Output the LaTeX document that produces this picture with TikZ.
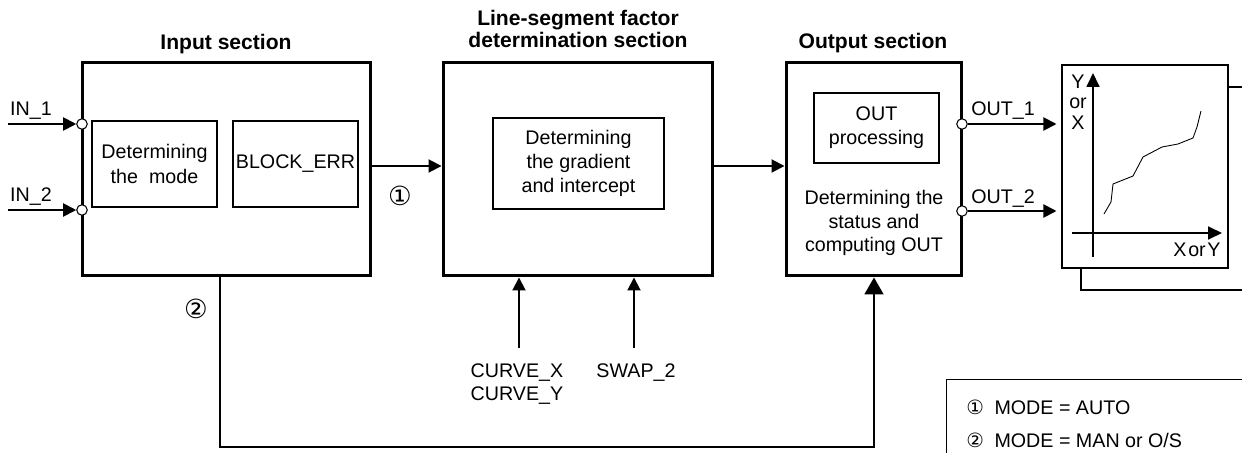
\documentclass[tikz,border=0pt]{standalone}
\usepackage{fontspec}
\setmainfont{Liberation Sans}
\newfontfamily\circfont{DejaVu Sans}
\usetikzlibrary{arrows.meta, positioning, calc}

\begin{document}
\begin{tikzpicture}[
  x=0.02cm, y=-0.02cm,
  every node/.style={font=\fontsize{11.2}{13.5}\selectfont},
  section/.style={draw, line width=1.7pt, inner sep=0pt},
  inner/.style={draw, line width=0.6pt, align=center, inner sep=0pt},
  title/.style={font=\fontsize{12}{12.2}\selectfont\bfseries, align=center, inner sep=0pt},
  port/.style={circle, draw, fill=white, line width=0.6pt, minimum size=0.21cm, inner sep=0pt},
  lbl/.style={inner sep=0pt, align=center},
  bignum/.style={inner sep=0pt, font=\fontsize{15}{15}\circfont},
  flow/.style={line width=1.1pt, -{Triangle[length=2.6mm, width=2.6mm]}},
  bigflow/.style={line width=1.1pt, -{Triangle[length=3.4mm, width=3.8mm]}}
]
  \useasboundingbox (0,0) rectangle (1242,453);
  \clip (0,0) rectangle (1242,453);

  % Sections
  \node[section, minimum width=5.78cm, minimum height=4.28cm] (inp) at (226.5,169) {};
  \node[section, minimum width=5.4cm, minimum height=4.28cm] (mid) at (578,169) {};
  \node[section, minimum width=3.52cm, minimum height=4.28cm] (outbox) at (874,169) {};
  \node[title] (inptitle) at (226,44) {Input section};
  \node[title] (midtitle) at (578,29) {Line-segment factor\\determination section};
  \node[title] (outtitle) at (873,43) {Output section};

  % Inner blocks
  \node[inner, minimum width=2.5cm, minimum height=1.72cm, font=\fontsize{11.2}{14.5}\selectfont] (mode) at (154.5,164) {Determining\\the~ mode};
  \node[inner, minimum width=2.5cm, minimum height=1.72cm] (blkerr) at (295.5,164) {BLOCK\_ERR};
  \node[inner, minimum width=3.42cm, minimum height=1.82cm] (grad) at (578.5,163.5) {Determining\\the gradient\\and intercept};
  \node[inner, minimum width=2.5cm, minimum height=1.4cm] (outproc) at (876.5,128) {OUT\\processing};
  \node[lbl] (status) at (874,223) {Determining the\\status and\\computing OUT};

  % Ports
  \node[port] (in1) at (82,124) {};
  \node[port] (in2) at (82,210) {};
  \node[port] (out1) at (962,124) {};
  \node[port] (out2) at (962,211) {};
  \coordinate (in1src) at (8,124);
  \coordinate (in2src) at (8,210);
  \draw[flow] (in1src) -- (in1.west);
  \draw[flow] (in2src) -- (in2.west);
  \node[lbl] (in1lbl) at (31,111) {IN\_1};
  \node[lbl] (in2lbl) at (31,197) {IN\_2};

  % Graph
  \node[inner, minimum width=3.32cm, minimum height=4.06cm] (graphback) at (1164,188.5) {};
  \node[inner, fill=white, minimum width=3.32cm, minimum height=4.06cm] (graph) at (1145,166.5) {};
  \draw[flow, shorten >=0.1cm] (out1) -- (graph.west |- out1);
  \draw[flow, shorten >=0.1cm] (out2) -- (graph.west |- out2);
  \node[lbl] (out1lbl) at (1003,111) {OUT\_1};
  \node[lbl] (out2lbl) at (1003,199) {OUT\_2};
  \coordinate (ybot) at (1093,257);
  \coordinate (ytop) at (1093,73);
  \coordinate (xleft) at (1072,233);
  \coordinate (xright) at (1222,233);
  \draw[line width=1pt, -{Triangle[length=2.8mm, width=2.6mm]}] (ybot) -- (ytop);
  \draw[line width=1pt, -{Triangle[length=2.8mm, width=2.6mm]}] (xleft) -- (xright);
  \draw[line width=0.5pt] plot coordinates {(1104,214) (1111,202) (1113,184) (1133,176) (1143,157)
    (1162,147) (1178,144) (1193,138) (1197,127) (1201,111)};
  \node[lbl, font=\fontsize{11.2}{11.6}\selectfont] (ylbl) at (1078,102) {Y\\or\\X};
  \node[lbl] (xlbl) at (1197,250) {X\hspace{1pt}or\hspace{1pt}Y};

  % Main flow
  \draw[flow] (inp.east |- 0,166) -- (mid.west |- 0,166);
  \draw[flow] (mid.east |- 0,166) -- (outbox.west |- 0,166);
  \node[bignum] (c1) at (400,196) {①};

  % Parameters
  \coordinate (cxsrc) at (519,348);
  \coordinate (swsrc) at (634,348);
  \draw[flow] (cxsrc) -- (cxsrc |- mid.south);
  \draw[flow] (swsrc) -- (swsrc |- mid.south);
  \node[lbl] (cxlbl) at (517,384) {CURVE\_X\\CURVE\_Y};
  \node[lbl] (swlbl) at (636,373) {SWAP\_2};

  % Bypass
  \coordinate (bypass) at (220,447);
  \draw[bigflow] (inp.south -| bypass) -- (bypass) -| (outbox.south);
  \node[bignum] (c2) at (196,309) {②};

  % Legend
  \node[draw, line width=0.6pt, anchor=north west, minimum width=8cm, minimum height=3cm] (legend) at (946,379) {};
  \node[lbl, anchor=west] (leg1) at (966,407) {{\circfont ①}\hspace{6pt}MODE = AUTO};
  \node[lbl, anchor=west] (leg2) at (966,440) {{\circfont ②}\hspace{6pt}MODE = MAN or O/S};
\end{tikzpicture}
\end{document}
